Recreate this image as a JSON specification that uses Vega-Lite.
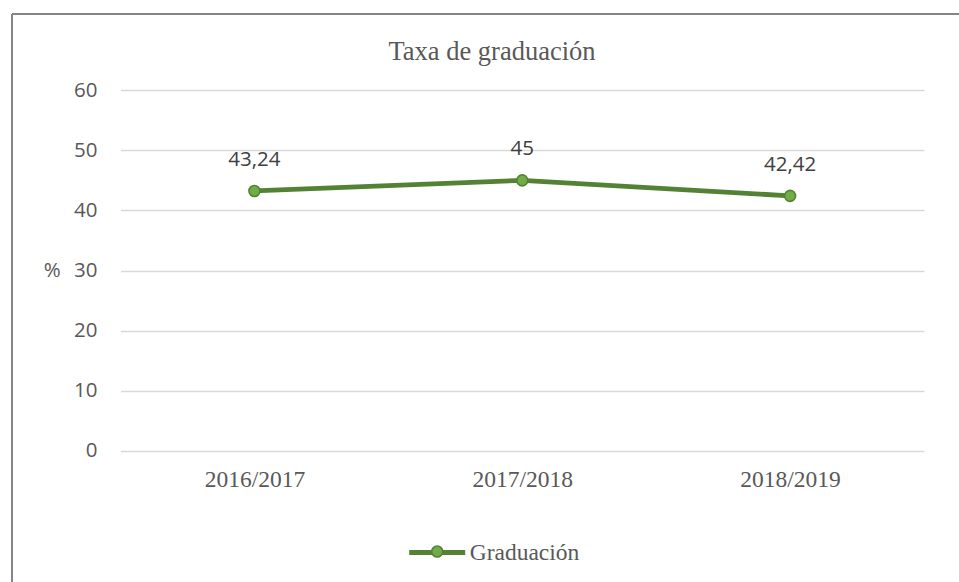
{
  "$schema": "https://vega.github.io/schema/vega-lite/v6.json",
  "width": 947,
  "height": 568,
  "autosize": "none",
  "padding": {"left": 12, "top": 14, "right": 0, "bottom": 0},
  "background": "white",
  "config": {
    "locale": {"number": {"decimal": ",", "thousands": ".", "grouping": [3], "currency": ["", " €"]}},
    "view": {"stroke": "#858585", "strokeWidth": 2, "strokeDash": [947, 1515, 568, 0]},
    "axis": {"labelFont": "Open Sans", "labelColor": "#595959", "titleColor": "#595959"}
  },
  "title": {
    "text": "Taxa de graduación",
    "font": "Liberation Serif",
    "fontSize": 26.5,
    "fontWeight": "normal",
    "color": "#595959",
    "anchor": "middle",
    "frame": "group",
    "baseline": "alphabetic",
    "offset": -72,
    "dx": 6.5
  },
  "data": {
    "values": [
      {"ano": "2016/2017", "taxa": 43.24, "serie": "Graduación"},
      {"ano": "2017/2018", "taxa": 45, "serie": "Graduación"},
      {"ano": "2018/2019", "taxa": 42.42, "serie": "Graduación"}
    ]
  },
  "encoding": {
    "x": {
      "field": "ano",
      "type": "nominal",
      "sort": null,
      "scale": {"type": "point", "padding": 0.5, "range": [108.5, 912]},
      "axis": {
        "title": null,
        "orient": "bottom",
        "offset": -131.3,
        "domain": false,
        "ticks": false,
        "grid": false,
        "labelAngle": 0,
        "labelFont": "Liberation Serif",
        "labelFontSize": 23.5,
        "labelColor": "#595959",
        "labelBaseline": "alphabetic",
        "labelPadding": 36
      }
    },
    "y": {
      "field": "taxa",
      "type": "quantitative",
      "scale": {"domain": [0, 60], "range": [436.7, 76.3], "nice": false, "zero": false},
      "axis": {
        "title": "%",
        "titleAngle": 0,
        "titleX": -45.3,
        "titleY": 256.5,
        "titleAlign": "center",
        "titleBaseline": "middle",
        "titleFont": "Open Sans",
        "titleFontSize": 20.5,
        "titleFontWeight": "normal",
        "orient": "left",
        "offset": -85,
        "values": [0, 10, 20, 30, 40, 50, 60],
        "domain": false,
        "ticks": false,
        "labelPadding": 0,
        "labelFontSize": 20.5,
        "grid": true,
        "gridColor": "#d9d9d9",
        "gridWidth": 1.3
      }
    }
  },
  "layer": [
    {
      "mark": {"type": "line", "strokeWidth": 4.8},
      "encoding": {
        "stroke": {
          "field": "serie",
          "type": "nominal",
          "scale": {"range": ["#548235"]},
          "legend": {
            "title": null,
            "orient": "none",
            "legendX": 394.7,
            "legendY": 508,
            "padding": 0,
            "symbolType": "M-1,0H1",
            "symbolSize": 3136,
            "symbolStrokeWidth": 4.8,
            "labelFont": "Liberation Serif",
            "labelFontSize": 23.5,
            "labelColor": "#595959",
            "labelOffset": 2
          }
        }
      }
    },
    {
      "mark": {"type": "point", "filled": true, "size": 120, "stroke": "#548235", "strokeWidth": 1.6, "opacity": 1},
      "encoding": {
        "fill": {
          "field": "serie",
          "type": "nominal",
          "scale": {"domain": ["Graduación"], "range": ["#70AD47"]},
          "legend": {
            "title": null,
            "orient": "none",
            "legendX": 418.7,
            "legendY": 531,
            "padding": 0,
            "symbolType": "circle",
            "symbolSize": 120,
            "symbolStrokeColor": "#548235",
            "symbolStrokeWidth": 1.6,
            "labelOpacity": 0,
            "labelFontSize": 1
          }
        }
      }
    },
    {
      "mark": {"type": "text", "dy": -25, "baseline": "alphabetic", "font": "Open Sans", "fontSize": 20.5, "color": "#404040"},
      "encoding": {
        "text": {"field": "taxa", "type": "quantitative", "format": "~g"}
      }
    }
  ]
}
